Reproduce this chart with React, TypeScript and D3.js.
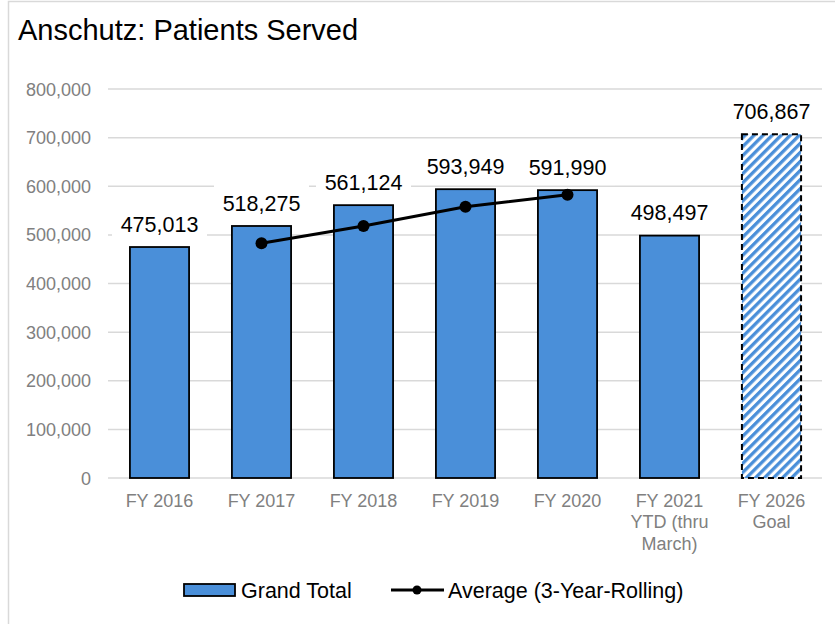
import React from "react";
import * as d3 from "d3";

const categories: string[][] = [
  ["FY 2016"],
  ["FY 2017"],
  ["FY 2018"],
  ["FY 2019"],
  ["FY 2020"],
  ["FY 2021", "YTD (thru", "March)"],
  ["FY 2026", "Goal"],
];
const grandTotal: number[] = [475013, 518275, 561124, 593949, 591990, 498497, 706867];
const goalFlags: boolean[] = [false, false, false, false, false, false, true];
const rollingIdx: number[] = [1, 2, 3, 4];
const rollingAvg: number[] = [482900, 518137, 557783, 582354];
const yTicks: number[] = [0, 100000, 200000, 300000, 400000, 500000, 600000, 700000, 800000];

const W = 835;
const H = 624;
const FONT = "'Liberation Sans', Arial, Helvetica, sans-serif";
const BLUE = "#4a8fd9";

export default function App() {
  const x = d3
    .scaleBand<number>()
    .domain(d3.range(categories.length))
    .range([108.5, 822.5])
    .paddingInner(0.42)
    .paddingOuter(0.21);
  const y = d3.scaleLinear().domain([0, 800000]).range([478, 89]);
  const fmt = d3.format(",");
  const cx = (i: number) => (x(i) as number) + x.bandwidth() / 2;

  const line = d3
    .line<number>()
    .x((_, k) => cx(rollingIdx[k]))
    .y((v) => y(v));

  return (
    <div style={{ position: "absolute", left: 0, top: 0 }}>
      <svg width={W} height={H} style={{ display: "block", fontFamily: FONT }}>
        <defs>
          <pattern
            id="hatch"
            patternUnits="userSpaceOnUse"
            width={6.4}
            height={6.4}
            patternTransform="rotate(45)"
          >
            <rect x={0} y={0} width={6.4} height={6.4} fill="#ffffff" />
            <rect x={0} y={0} width={3.3} height={6.4} fill={BLUE} />
          </pattern>
        </defs>
        <rect x={0} y={0} width={W} height={H} fill="#ffffff" />
        <rect
          x={8.5}
          y={1.5}
          width={840}
          height={640}
          fill="#ffffff"
          stroke="#d9d9d9"
          strokeWidth={1.5}
        />
        <text x={18} y={40} fontSize={29} fill="#000000">
          Anschutz: Patients Served
        </text>

        {yTicks.map((t) => (
          <g key={t}>
            <line
              x1={108}
              x2={822}
              y1={y(t)}
              y2={y(t)}
              stroke="#d9d9d9"
              strokeWidth={1.5}
            />
            <text
              x={91}
              y={y(t) + 6.5}
              textAnchor="end"
              fontSize={18}
              fill="#808080"
            >
              {fmt(t)}
            </text>
          </g>
        ))}

        {grandTotal.map((v, i) => {
          const x0 = x(i) as number;
          const bw = x.bandwidth();
          return goalFlags[i] ? (
            <g key={i}>
              <rect
                x={x0}
                y={y(v)}
                width={bw}
                height={y(0) - y(v)}
                fill="url(#hatch)"
                stroke="#000000"
                strokeWidth={2}
                strokeDasharray="6 4"
              />
            </g>
          ) : (
            <rect
              key={i}
              x={x0}
              y={y(v)}
              width={bw}
              height={y(0) - y(v)}
              fill={BLUE}
              stroke="#000000"
              strokeWidth={1.8}
            />
          );
        })}

        {categories.map((lines, i) => (
          <text
            key={i}
            x={cx(i)}
            y={506.5}
            textAnchor="middle"
            fontSize={18}
            fill="#808080"
          >
            {lines.map((l, k) => (
              <tspan key={k} x={cx(i)} dy={k === 0 ? 0 : 21.5}>
                {l}
              </tspan>
            ))}
          </text>
        ))}

        <path
          d={line(rollingAvg) || ""}
          fill="none"
          stroke="#000000"
          strokeWidth={3}
        />
        {rollingAvg.map((v, k) => (
          <circle key={k} cx={cx(rollingIdx[k])} cy={y(v)} r={6} fill="#000000" />
        ))}

        {grandTotal.map((v, i) => {
          const c = y(v) - 23;
          const tw = 77;
          return (
            <g key={i}>
              <rect
                x={cx(i) - tw / 2 - 9}
                y={c - 18}
                width={tw + 18}
                height={36}
                fill="#ffffff"
              />
              <text
                x={cx(i)}
                y={c + 7.7}
                textAnchor="middle"
                fontSize={21.5}
                fill="#000000"
              >
                {fmt(v)}
              </text>
            </g>
          );
        })}

        <g>
          <rect
            x={184}
            y={584}
            width={51}
            height={12}
            fill={BLUE}
            stroke="#000000"
            strokeWidth={1.8}
          />
          <text x={241} y={597.5} fontSize={21.5} fill="#000000">
            Grand Total
          </text>
          <line x1={391} x2={444} y1={590} y2={590} stroke="#000000" strokeWidth={3} />
          <circle cx={417} cy={590} r={4.5} fill="#000000" />
          <text x={448} y={597.5} fontSize={21.5} fill="#000000">
            Average (3-Year-Rolling)
          </text>
        </g>
      </svg>
    </div>
  );
}
